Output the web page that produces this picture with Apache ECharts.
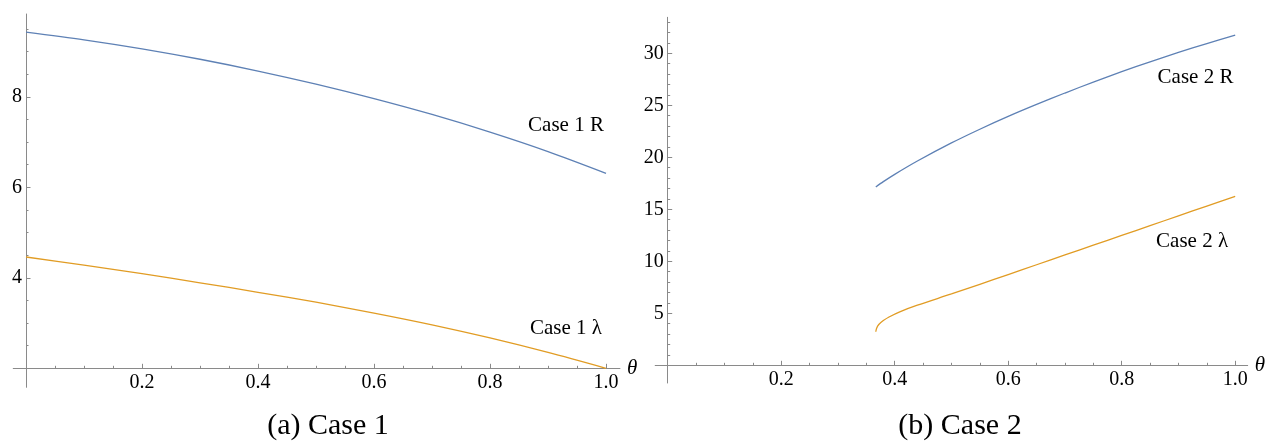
<!DOCTYPE html>
<html><head><meta charset="utf-8">
<script src="https://cdn.jsdelivr.net/npm/echarts@6/dist/echarts.min.js"></script>
<style>html,body{margin:0;padding:0;background:#fff}#c{width:1268px;height:441px}</style>
</head><body><div id="c"></div>
<script>
// ---- Case 1 data ----
const thetaC1 = [0, 0.1, 0.2, 0.3, 0.4, 0.5, 0.6, 0.7, 0.8, 0.9, 1.0];
const rC1     = [9.43, 9.26, 9.06, 8.83, 8.57, 8.28, 7.96, 7.61, 7.22, 6.79, 6.31];
const lamC1   = [4.46, 4.28, 4.09, 3.89, 3.68, 3.46, 3.22, 2.96, 2.67, 2.35, 2.00];
// ---- Case 2 data ----
const thetaC2R = [0.3667, 0.38, 0.40, 0.44, 0.50, 0.55, 0.60, 0.65, 0.70, 0.75, 0.80, 0.85, 0.90, 0.95, 1.0];
const rC2      = [17.15, 17.66, 18.36, 19.64, 21.38, 22.70, 23.93, 25.08, 26.18, 27.23, 28.23, 29.18, 30.08, 30.93, 31.75];
const thetaC2L = [0.3667, 0.368, 0.372, 0.38, 0.39, 0.41, 0.44, 0.50, 0.55, 0.60, 0.65, 0.70, 0.75, 0.80, 0.85, 0.90, 0.95, 1.0];
const lamC2    = [3.23, 3.55, 3.92, 4.30, 4.65, 5.17, 5.78, 6.86, 7.79, 8.73, 9.67, 10.61, 11.55, 12.49, 13.43, 14.37, 15.31, 16.25];
// ---- ticks ----
const xMajorTicks  = [0.2, 0.4, 0.6, 0.8, 1.0];
const xMinorStep   = 0.05;
const y1MajorTicks = [4, 6, 8];
const y1MinorStep  = 0.5;
const y2MajorTicks = [5, 10, 15, 20, 25, 30];
const y2MinorStep  = 1;
// ---- labels ----
const labelNames  = ['Case 1 R', 'Case 1 λ', 'Case 2 R', 'Case 2 λ'];
const labelTheta  = [0.931, 0.931, 0.930, 0.924];
const labelValue  = [7.37, 2.88, 27.7, 11.86];
const captions    = ['(a) Case 1', '(b) Case 2'];

const FONT = "'Liberation Serif', 'Times New Roman', serif";
const AXC = '#8a8a8a';
const BLUE = '#5E81B5', ORANGE = '#E19C24';

function minors(lo, hi, step, majors) {
  const out = [];
  for (let i = Math.ceil(lo / step - 1e-9); i * step <= hi + 1e-9; i++) {
    const v = +(i * step).toFixed(6);
    if (!majors.some(m => Math.abs(m - v) < 1e-6)) out.push(v);
  }
  return out;
}
const zip = (a, b) => a.map((v, i) => [v, b[i]]);

function xAx(grid, min, max, offset, major) {
  return [{
    type: 'value', gridIndex: grid, min, max, offset, position: 'bottom',
    axisLine: { show: true, onZero: false, lineStyle: { color: AXC, width: 1 } },
    axisTick: { show: true, inside: true, length: 4.5, customValues: major, lineStyle: { color: AXC } },
    axisLabel: { show: true, customValues: major, margin: 4, color: '#000', fontFamily: FONT, fontSize: 20,
                 formatter: v => v.toFixed(1) },
    splitLine: { show: false },
    name: 'θ', nameLocation: 'end', nameGap: 7,
    nameTextStyle: { fontFamily: FONT, fontStyle: 'italic', fontSize: 21, color: '#000' }
  }, {
    type: 'value', gridIndex: grid, min, max, offset, position: 'bottom',
    axisLine: { show: false, onZero: false },
    axisTick: { show: true, inside: true, length: 2.5, customValues: minors(0, 1, xMinorStep, major.concat([0])), lineStyle: { color: AXC } },
    axisLabel: { show: false }, splitLine: { show: false }
  }];
}
function yAx(grid, min, max, offset, major, step, lo, hi) {
  return [{
    type: 'value', gridIndex: grid, min, max, offset, position: 'left',
    axisLine: { show: true, onZero: false, lineStyle: { color: AXC, width: 1 } },
    axisTick: { show: true, inside: true, length: 4.5, customValues: major, lineStyle: { color: AXC } },
    axisLabel: { show: true, customValues: major, margin: 4, color: '#000', fontFamily: FONT, fontSize: 20 },
    splitLine: { show: false }
  }, {
    type: 'value', gridIndex: grid, min, max, offset, position: 'left',
    axisLine: { show: false, onZero: false },
    axisTick: { show: true, inside: true, length: 2.5, customValues: minors(lo, hi, step, major), lineStyle: { color: AXC } },
    axisLabel: { show: false }, splitLine: { show: false }
  }];
}

function lbl(i) {
  return {
    coord: [labelTheta[i], labelValue[i]], symbolSize: 0,
    label: { show: true, position: 'inside', formatter: labelNames[i], color: '#000', fontFamily: FONT, fontSize: 21 }
  };
}
function line(xi, yi, data, color, li) {
  return {
    type: 'line', xAxisIndex: xi, yAxisIndex: yi, data, showSymbol: false,
    smooth: 0.3,
    lineStyle: { color, width: 1.3 }, itemStyle: { color },
    markPoint: { symbol: 'circle', symbolSize: 0, data: [lbl(li)], silent: true }
  };
}

const chart = echarts.init(document.getElementById('c'));
chart.setOption({
  animation: false,
  backgroundColor: '#fff',
  title: [
    { text: captions[0], left: 323, top: 406, textAlign: 'center',
      textStyle: { fontFamily: FONT, fontWeight: 'normal', fontSize: 30, color: '#000' } },
    { text: captions[1], left: 955, top: 406, textAlign: 'center',
      textStyle: { fontFamily: FONT, fontWeight: 'normal', fontSize: 30, color: '#000' } }
  ],
  grid: [
    { left: 13.24, top: 14, width: 606.7, height: 373.3 },
    { left: 655.2, top: 17.3, width: 595.1, height: 365.7 }
  ],
  xAxis: [].concat(xAx(0, -0.022, 1.024, -19, xMajorTicks), xAx(1, -0.022, 1.022, -17.7, xMajorTicks)),
  yAxis: [].concat(yAx(0, 1.58, 9.83, -12.76, y1MajorTicks, y1MinorStep, 2, 9.83),
                   yAx(1, -1.7, 33.46, -12.5, y2MajorTicks, y2MinorStep, 0, 33.46)),
  series: [
    line(0, 0, zip(thetaC1, rC1), BLUE, 0),
    line(0, 0, zip(thetaC1, lamC1), ORANGE, 1),
    line(2, 2, zip(thetaC2R, rC2), BLUE, 2),
    line(2, 2, zip(thetaC2L, lamC2), ORANGE, 3)
  ]
});
</script></body></html>
